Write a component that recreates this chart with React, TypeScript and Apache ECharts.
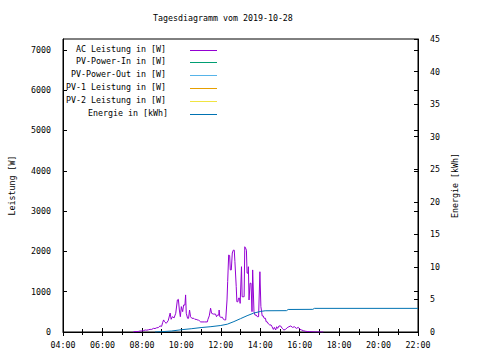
import { useEffect, useRef } from "react";
import * as echarts from "echarts";

const chartTitle = "Tagesdiagramm vom 2019-10-28";
const leftAxisName = "Leistung [W]";
const rightAxisName = "Energie [kWh]";
const seriesNames = [
  "AC Leistung in [W]",
  "PV-Power-In in [W]",
  "PV-Power-Out in [W]",
  "PV-1 Leistung in [W]",
  "PV-2 Leistung in [W]",
  "Energie in [kWh]",
];
const seriesColors = ["#9400d3", "#009e73", "#56b4e9", "#e69f00", "#f0e442", "#0072b2"];

const acTimes = [
  "07:34", "07:36", "07:45", "07:50", "07:55", "08:00", "08:05", "08:10", "08:15", "08:20",
  "08:25", "08:30", "08:35", "08:40", "08:45", "08:50", "08:55", "09:00", "09:03", "09:06",
  "09:09", "09:14", "09:20", "09:26", "09:29", "09:33", "09:38", "09:43", "09:48", "09:51",
  "09:54", "09:57", "10:00", "10:04", "10:07", "10:11", "10:13", "10:15", "10:19", "10:22",
  "10:25", "10:28", "10:32", "10:38", "10:41", "10:45", "10:48", "10:52", "10:55", "10:59",
  "11:10", "11:19", "11:21", "11:25", "11:29", "11:32", "11:37", "11:44", "11:47", "11:50",
  "11:54", "11:55", "11:57", "12:00", "12:05", "12:08", "12:12", "12:15", "12:19", "12:21",
  "12:24", "12:27", "12:29", "12:32", "12:35", "12:38", "12:41", "12:43", "12:47", "12:49",
  "12:52", "12:54", "12:57", "12:59", "13:01", "13:03", "13:05", "13:08", "13:11", "13:13",
  "13:15", "13:18", "13:20", "13:23", "13:24", "13:26", "13:29", "13:32", "13:35", "13:37",
  "13:39", "13:41", "13:44", "13:48", "13:51", "13:55", "13:59", "14:02", "14:06", "14:09",
  "14:12", "14:16", "14:18", "14:21", "14:25", "14:29", "14:33", "14:36", "14:40", "14:43",
  "14:47", "14:50", "14:53", "14:57", "15:02", "15:07", "15:12", "15:17", "15:22", "15:27",
  "15:33", "15:38", "15:44", "15:50", "15:56", "16:01", "16:06", "16:11", "16:17", "16:23",
  "16:29", "16:35", "16:41", "16:48", "16:55", "17:02", "17:08", "17:12",
];
const acWatts = [
  0, 10, 10, 15, 25, 25, 35, 50, 45, 55,
  65, 65, 90, 85, 105, 110, 150, 140, 230, 300,
  255, 215, 280, 470, 315, 380, 350, 465, 795, 810,
  545, 380, 630, 505, 670, 670, 920, 465, 340, 340,
  545, 380, 340, 340, 315, 315, 300, 300, 275, 250,
  250, 250, 315, 400, 590, 465, 445, 445, 380, 420,
  420, 545, 380, 365, 365, 315, 300, 300, 795, 1250,
  1910, 1900, 1540, 1540, 1960, 2030, 2030, 1745, 1125, 750,
  750, 840, 840, 710, 710, 1620, 875, 875, 875, 2115,
  2090, 2030, 1460, 1460, 1620, 795, 1210, 1210, 505, 1540,
  1540, 505, 420, 420, 380, 380, 1495, 630, 400, 400,
  340, 340, 255, 255, 200, 175, 175, 130, 65, 115,
  50, 130, 90, 150, 150, 90, 50, 65, 107, 130,
  150, 115, 130, 90, 115, 65, 50, 33, 20, 12,
  10, 8, 5, 3, 2, 1, 0, 0,
];

// PV series carry no values on this day
const pvInWatts: number[] = [];
const pvOutWatts: number[] = [];
const pv1Watts: number[] = [];
const pv2Watts: number[] = [];

const energyTimes = [
  "08:40", "09:00", "09:30", "10:00", "10:30", "11:00", "11:30", "12:00", "12:20", "12:40",
  "13:00", "13:20", "13:40", "14:00", "14:15", "15:20", "15:25", "16:40", "16:45", "22:00",
];
const energyKWh = [
  0, 0.05, 0.15, 0.35, 0.5, 0.68, 0.82, 1.0, 1.2, 1.6,
  2.05, 2.5, 2.9, 3.15, 3.26, 3.28, 3.46, 3.48, 3.63, 3.63,
];

const toHours = (s: string) => {
  const [h, m] = s.split(":").map(Number);
  return h + m / 60;
};
const hourLabel = (v: number) => String(Math.round(v)).padStart(2, "0") + ":00";

const FONT = "DejaVu Sans Mono";
const FS = 8.3;

export default function App() {
  const ref = useRef<HTMLDivElement>(null);
  useEffect(() => {
    if (!ref.current) return;
    const chart = echarts.init(ref.current, undefined, { renderer: "svg" });
    const acData = acTimes.map((t, i) => [toHours(t), acWatts[i]]);
    const enData = energyTimes.map((t, i) => [toHours(t), energyKWh[i]]);
    const emptyPv = [pvInWatts, pvOutWatts, pv1Watts, pv2Watts];

    const legendGraphics: any[] = [];
    seriesNames.forEach((name, i) => {
      const y = 48.5 + 12.9 * i;
      const ly = Math.round(y + 1) + 0.5;
      legendGraphics.push({
        type: "text",
        x: i === 5 ? 168 : 166,
        y,
        style: {
          text: name,
          fill: "#000",
          font: `${FS}px ${FONT}`,
          textAlign: "right",
          textVerticalAlign: "middle",
        },
      });
      legendGraphics.push({
        type: "line",
        shape: { x1: 190, y1: ly, x2: 217, y2: ly },
        style: { stroke: seriesColors[i], lineWidth: 1 },
      });
    });

    const tickStyle = { color: "#000", width: 1 };
    chart.setOption({
      animation: false,
      backgroundColor: "#fff",
      textStyle: { fontFamily: FONT, fontSize: FS, color: "#000" },
      title: {
        text: chartTitle,
        left: 153,
        top: 14,
        padding: 0,
        textStyle: { fontFamily: FONT, fontSize: FS, fontWeight: "normal", color: "#000" },
      },
      grid: {
        left: 58,
        right: 62,
        top: 39,
        bottom: 28,
        show: true,
        borderColor: "#000",
        borderWidth: 1,
        backgroundColor: "transparent",
      },
      xAxis: [
        {
          type: "value",
          min: 4,
          max: 22,
          interval: 2,
          position: "bottom",
          axisLine: { show: true, lineStyle: { color: "#000" } },
          axisTick: { show: true, inside: true, length: 4, lineStyle: tickStyle },
          minorTick: { show: true, splitNumber: 2, length: 3, lineStyle: tickStyle },
          splitLine: { show: false },
          axisLabel: {
            formatter: hourLabel,
            color: "#000",
            fontFamily: FONT,
            fontSize: FS,
            margin: 9,
          },
        },
        {
          type: "value",
          min: 4,
          max: 22,
          interval: 2,
          position: "top",
          axisLine: { show: false },
          axisTick: { show: true, inside: true, length: 4, lineStyle: tickStyle },
          minorTick: { show: true, splitNumber: 2, length: 3, lineStyle: tickStyle },
          splitLine: { show: false },
          axisLabel: { show: false },
        },
      ],
      yAxis: [
        {
          type: "value",
          min: 0,
          max: 7270,
          interval: 1000,
          position: "left",
          name: leftAxisName,
          nameLocation: "middle",
          nameRotate: 90,
          nameGap: 47,
          nameTextStyle: { fontFamily: FONT, fontSize: FS, color: "#000" },
          axisLine: { show: true, lineStyle: { color: "#000" } },
          axisTick: { show: true, inside: true, length: 4, lineStyle: tickStyle },
          splitLine: { show: false },
          axisLabel: {
            showMaxLabel: false,
            formatter: (v: number) => String(v),
            color: "#000",
            fontFamily: FONT,
            fontSize: FS,
            margin: 12,
          },
        },
        {
          type: "value",
          min: 0,
          max: 45,
          interval: 5,
          position: "right",
          name: rightAxisName,
          nameLocation: "middle",
          nameRotate: 90,
          nameGap: 32,
          nameTextStyle: { fontFamily: FONT, fontSize: FS, color: "#000" },
          axisLine: { show: true, lineStyle: { color: "#000" } },
          axisTick: { show: true, inside: true, length: 4, lineStyle: tickStyle },
          splitLine: { show: false },
          axisLabel: {
            formatter: (v: number) => String(v),
            color: "#000",
            fontFamily: FONT,
            fontSize: FS,
            margin: 12,
          },
        },
        {
          type: "value",
          min: 0,
          max: 7270,
          interval: 1000,
          position: "right",
          axisLine: { show: false },
          axisTick: { show: true, inside: true, length: 4, lineStyle: tickStyle },
          splitLine: { show: false },
          axisLabel: { show: false },
        },
      ],
      series: [
        {
          name: seriesNames[0],
          type: "line",
          xAxisIndex: 0,
          yAxisIndex: 0,
          data: acData,
          showSymbol: false,
          symbol: "none",
          lineStyle: { color: seriesColors[0], width: 1 },
        },
        ...emptyPv.map((arr, i) => ({
          name: seriesNames[i + 1],
          type: "line",
          xAxisIndex: 0,
          yAxisIndex: 0,
          data: arr,
          symbol: "none",
          lineStyle: { color: seriesColors[i + 1], width: 1 },
        })),
        {
          name: seriesNames[5],
          type: "line",
          xAxisIndex: 0,
          yAxisIndex: 1,
          data: enData,
          symbol: "none",
          lineStyle: { color: seriesColors[5], width: 1 },
        },
      ],
      graphic: legendGraphics,
    });
    return () => chart.dispose();
  }, []);
  return <div ref={ref} style={{ width: 480, height: 360, position: "fixed", left: 0, top: 0 }} />;
}
